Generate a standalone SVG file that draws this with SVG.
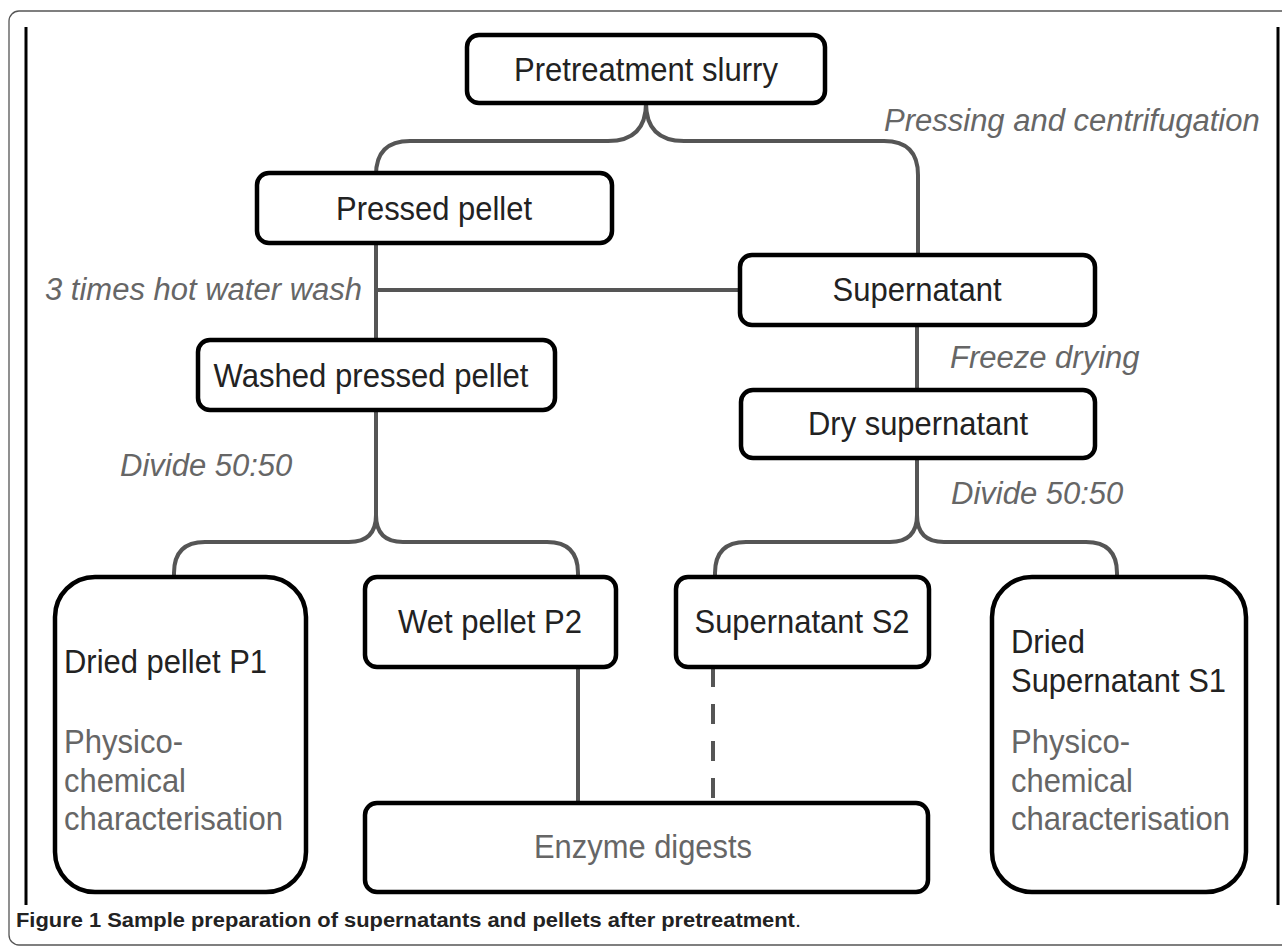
<svg xmlns="http://www.w3.org/2000/svg" width="1282" height="947" viewBox="0 0 1282 947">
<style>
.box{fill:#fff;stroke:#000;stroke-width:4.5}
.conn{fill:none;stroke:#555;stroke-width:4}
.t{font-family:"Liberation Sans",Arial,sans-serif;font-size:33px;fill:#222}
.g{font-family:"Liberation Sans",Arial,sans-serif;font-size:33px;fill:#666}
.lab{font-family:"Liberation Sans",Arial,sans-serif;font-size:31px;font-style:italic;fill:#666}
.cap{font-family:"Liberation Sans",Arial,sans-serif;font-size:20px;font-weight:bold;fill:#222}
</style>
<rect x="9" y="11" width="1300" height="934" rx="10" fill="#fff" stroke="#555" stroke-width="1.3"/>
<line x1="26" y1="27" x2="26" y2="905" stroke="#000" stroke-width="3"/>
<line x1="1278" y1="27" x2="1278" y2="905" stroke="#000" stroke-width="3"/>
<g id="connectors">
<path class="conn" d="M646 103 Q646 141 608 141 L410 141 Q376 141 376 175"/>
<path class="conn" d="M646 103 Q646 141 684 141 L884 141 Q918 141 918 175 L918 255"/>
<path class="conn" d="M376 243 L376 340"/>
<path class="conn" d="M376 290 L740 290"/>
<path class="conn" d="M917 325 L917 390"/>
<path class="conn" d="M376 410 L376 515 Q376 542 349 542 L205 542 Q174 542 174 573 L174 577"/>
<path class="conn" d="M376 515 Q376 542 403 542 L547 542 Q578 542 578 573 L578 577"/>
<path class="conn" d="M917 458 L917 515 Q917 542 890 542 L746 542 Q715 542 715 573 L715 577"/>
<path class="conn" d="M917 515 Q917 542 944 542 L1086 542 Q1117 542 1117 573 L1117 577"/>
<path class="conn" d="M578 667 L578 803"/>
<path class="conn" d="M713 667 L713 803" stroke-dasharray="20 17"/>
</g>
<g id="labels">
<text class="lab" x="884" y="131">Pressing and centrifugation</text>
<text class="lab" x="45" y="300">3 times hot water wash</text>
<text class="lab" x="950" y="368">Freeze drying</text>
<text class="lab" x="120" y="476">Divide 50:50</text>
<text class="lab" x="951" y="504">Divide 50:50</text>
</g>
<g id="n-pretreatment">
<rect class="box" x="467" y="35" width="358" height="68" rx="12"/>
<text class="t" x="646" y="81" text-anchor="middle" textLength="264" lengthAdjust="spacingAndGlyphs">Pretreatment slurry</text>
</g>
<g id="n-pressed">
<rect class="box" x="257" y="173" width="355" height="70" rx="12"/>
<text class="t" x="434" y="220" text-anchor="middle" textLength="196" lengthAdjust="spacingAndGlyphs">Pressed pellet</text>
</g>
<g id="n-supernatant">
<rect class="box" x="740" y="255" width="355" height="70" rx="12"/>
<text class="t" x="917" y="301" text-anchor="middle" textLength="169" lengthAdjust="spacingAndGlyphs">Supernatant</text>
</g>
<g id="n-washed">
<rect class="box" x="198" y="340" width="357" height="70" rx="12"/>
<text class="t" x="371" y="387" text-anchor="middle" textLength="315" lengthAdjust="spacingAndGlyphs">Washed pressed pellet</text>
</g>
<g id="n-dry">
<rect class="box" x="741" y="390" width="354" height="68" rx="12"/>
<text class="t" x="918" y="435" text-anchor="middle" textLength="220" lengthAdjust="spacingAndGlyphs">Dry supernatant</text>
</g>
<g id="n-p1">
<rect class="box" x="55" y="577" width="251" height="315" rx="40"/>
<text class="t" x="64" y="673" textLength="203" lengthAdjust="spacingAndGlyphs">Dried pellet P1</text>
<text class="g" x="64" y="753" textLength="119" lengthAdjust="spacingAndGlyphs">Physico-</text>
<text class="g" x="64" y="792" textLength="122" lengthAdjust="spacingAndGlyphs">chemical</text>
<text class="g" x="64" y="830" textLength="219" lengthAdjust="spacingAndGlyphs">characterisation</text>
</g>
<g id="n-p2">
<rect class="box" x="365" y="577" width="251" height="90" rx="12"/>
<text class="t" x="490" y="633" text-anchor="middle" textLength="184" lengthAdjust="spacingAndGlyphs">Wet pellet P2</text>
</g>
<g id="n-s2">
<rect class="box" x="676" y="577" width="253" height="90" rx="12"/>
<text class="t" x="802" y="633" text-anchor="middle" textLength="215" lengthAdjust="spacingAndGlyphs">Supernatant S2</text>
</g>
<g id="n-s1">
<rect class="box" x="992" y="577" width="254" height="315" rx="40"/>
<text class="t" x="1011" y="653" textLength="74" lengthAdjust="spacingAndGlyphs">Dried</text>
<text class="t" x="1011" y="692" textLength="215" lengthAdjust="spacingAndGlyphs">Supernatant S1</text>
<text class="g" x="1011" y="753" textLength="119" lengthAdjust="spacingAndGlyphs">Physico-</text>
<text class="g" x="1011" y="792" textLength="122" lengthAdjust="spacingAndGlyphs">chemical</text>
<text class="g" x="1011" y="830" textLength="219" lengthAdjust="spacingAndGlyphs">characterisation</text>
</g>
<g id="n-enzyme">
<rect class="box" x="365" y="803" width="563" height="89" rx="12"/>
<text class="g" x="643" y="858" text-anchor="middle" textLength="218" lengthAdjust="spacingAndGlyphs">Enzyme digests</text>
</g>
<text class="cap" x="16" y="927" textLength="785" lengthAdjust="spacingAndGlyphs">Figure 1 Sample preparation of supernatants and pellets after pretreatment<tspan font-weight="normal">.</tspan></text>
</svg>
